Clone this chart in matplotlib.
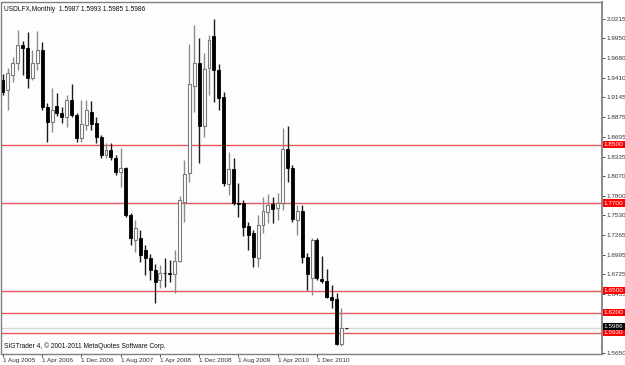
import numpy as np
import matplotlib.pyplot as plt

plt.rcParams['font.family'] = ['Liberation Sans', 'DejaVu Sans']

# Monthly candles, Aug 2005 .. Jun 2011
opens = [1.9382, 1.9245, 1.9450, 1.9614, 1.9860, 1.9819, 1.9409, 1.9614, 1.9792, 1.9013,
         1.8808, 1.9026, 1.8931, 1.8876, 1.9108, 1.8903, 1.8589, 1.8767, 1.8945, 1.8794,
         1.8603, 1.8357, 1.8425, 1.8316, 1.8125, 1.8179, 1.7537, 1.7195, 1.7222, 1.7059,
         1.6950, 1.6785, 1.6649, 1.6745, 1.6745, 1.6731, 1.6908, 1.7714, 1.8111, 1.9300,
         1.9614, 1.8753, 1.9546, 1.9983, 1.9518, 1.9149, 1.7960, 1.8165, 1.7701, 1.7701,
         1.7386, 1.7291, 1.6949, 1.7400, 1.7578, 1.7687, 1.7633, 1.7701, 1.8439, 1.8179,
         1.7469, 1.7592, 1.6963, 1.6676, 1.7195, 1.6662, 1.6635, 1.6416, 1.6389, 1.5774,
         1.5987]
highs = [1.9464, 1.9546, 1.9696, 2.0065, 1.9915, 2.0038, 1.9792, 2.0051, 1.9901, 1.9067,
         1.9272, 1.9204, 1.9013, 1.9177, 1.9327, 1.8931, 1.9108, 1.9108, 1.9095, 1.8876,
         1.8630, 1.8521, 1.8521, 1.8357, 1.8452, 1.8193, 1.7565, 1.7469, 1.7332, 1.7127,
         1.7000, 1.6867, 1.6854, 1.6949, 1.6922, 1.7059, 1.7796, 1.8288, 1.9874, 2.0133,
         1.9956, 1.9751, 1.9997, 2.0215, 1.9600, 1.9218, 1.8398, 1.8316, 1.7974, 1.7742,
         1.7441, 1.7332, 1.7537, 1.7783, 1.7824, 1.7783, 1.7838, 1.8726, 1.8753, 1.8220,
         1.7673, 1.7673, 1.7017, 1.7222, 1.7222, 1.6977, 1.6799, 1.6580, 1.6471, 1.6266,
         1.5993]
lows = [1.9177, 1.8972, 1.9354, 1.9518, 1.9450, 1.9272, 1.9382, 1.9518, 1.8972, 1.8535,
        1.8671, 1.8890, 1.8794, 1.8740, 1.8876, 1.8535, 1.8535, 1.8698, 1.8698, 1.8521,
        1.8316, 1.8316, 1.8288, 1.8083, 1.7919, 1.7510, 1.7127, 1.7031, 1.6895, 1.6717,
        1.6650, 1.6328, 1.6539, 1.6553, 1.6621, 1.6471, 1.6895, 1.7441, 1.7988, 1.8944,
        1.8247, 1.8603, 1.9177, 1.9081, 1.8972, 1.7933, 1.7810, 1.7673, 1.7510, 1.7250,
        1.7059, 1.6826, 1.6826, 1.7291, 1.7428, 1.7428, 1.7469, 1.7605, 1.7988, 1.7441,
        1.7264, 1.6881, 1.6512, 1.6444, 1.6649, 1.6608, 1.6402, 1.6266, 1.5760, 1.5746,
        1.5985]
closes = [1.9218, 1.9477, 1.9614, 1.9860, 1.9819, 1.9409, 1.9614, 1.9792, 1.9013, 1.8808,
          1.8972, 1.8931, 1.8876, 1.9108, 1.8903, 1.8589, 1.8780, 1.8972, 1.8780, 1.8603,
          1.8357, 1.8425, 1.8329, 1.8125, 1.8179, 1.7537, 1.7222, 1.7359, 1.6990, 1.6950,
          1.6785, 1.6621, 1.6745, 1.6740, 1.6735, 1.6908, 1.7742, 1.8097, 1.9327, 1.9614,
          1.8753, 1.9532, 1.9928, 1.9518, 1.9136, 1.7974, 1.8165, 1.7701, 1.7687, 1.7373,
          1.7264, 1.6963, 1.7400, 1.7592, 1.7673, 1.7619, 1.7701, 1.8439, 1.8179, 1.7482,
          1.7592, 1.6963, 1.6731, 1.7195, 1.6676, 1.6635, 1.6416, 1.6375, 1.5774, 1.5987,
          1.5986]

date_labels = ["1 Aug 2005", "1 Apr 2006", "1 Dec 2006", "1 Aug 2007", "1 Apr 2008",
               "1 Dec 2008", "1 Aug 2009", "1 Apr 2010", "1 Dec 2010"]
price_ticks = [2.0215, 1.9950, 1.9680, 1.9410, 1.9145, 1.8875, 1.8605, 1.8335, 1.8070,
               1.7800, 1.7530, 1.7265, 1.6995, 1.6725, 1.6455, 1.6185, 1.5920, 1.5650]
levels = [1.8500, 1.7700, 1.6500, 1.6200, 1.5930]
level_labels = ["1.8500", "1.7700", "1.6500", "1.6200", "1.5930"]
bid = 1.5986

fig = plt.figure(figsize=(6.25, 3.65), dpi=100, facecolor="white")
ax = fig.add_axes([1.5 / 625, 1 - 354 / 365, 600.5 / 625, 352 / 365])
ax.set_facecolor("#FDFDFD")

o = np.array(opens); h = np.array(highs); l = np.array(lows); c = np.array(closes)
x = np.arange(len(o))
up = c >= o
dn = ~up

# wicks
ax.vlines(x[up], l[up], h[up], color="#8C8C8C", linewidth=1, zorder=2)
ax.vlines(x[dn], l[dn], h[dn], color="#1A1A1A", linewidth=1, zorder=2)
# bodies
ax.bar(x[up], c[up] - o[up], bottom=o[up], width=0.6, color="white",
       edgecolor="#7A7A7A", linewidth=0.8, zorder=3)
ax.bar(x[dn], o[dn] - c[dn], bottom=c[dn], width=0.6, color="black",
       edgecolor="black", linewidth=0.6, zorder=3)

# horizontal levels
for lv in levels:
    ax.axhline(lv, color="#E8585A", linewidth=1, zorder=1)
ax.axhline(bid, color="#D8D8D8", linewidth=1, zorder=0)

ax.set_xlim(-0.3, 122.1)
ax.set_ylim(1.5637, 2.0448)

ax.yaxis.tick_right()
ax.set_yticks(price_ticks)
ax.set_yticklabels(["%.4f" % v for v in price_ticks])
ax.set_xticks(range(0, 65, 8))
ax.set_xticklabels(date_labels, ha="left")
ax.tick_params(axis="both", labelsize=4.6, colors="#333333", length=2, width=0.6, pad=1.2)

for s in ax.spines.values():
    s.set_color("#808080")
    s.set_linewidth(1)
ax.spines["right"].set_linewidth(1.3)

# right side price labels
for lv, txt in zip(levels, level_labels):
    ax.text(1.003, lv, txt, transform=ax.get_yaxis_transform(), ha="left", va="center",
            fontsize=4.6, color="white", zorder=10, clip_on=False,
            bbox=dict(facecolor="#FF0000", edgecolor="none", pad=0.8))
ax.text(1.003, bid + 0.0026, "%.4f" % bid, transform=ax.get_yaxis_transform(), ha="left",
        va="center", fontsize=4.6, color="white", zorder=10, clip_on=False,
        bbox=dict(facecolor="black", edgecolor="none", pad=0.8))

ax.text(0.004, 0.988, "USDLFX,Monthly  1.5987 1.5993 1.5985 1.5986", transform=ax.transAxes,
        ha="left", va="top", fontsize=4.8, color="#111111")
ax.text(0.004, 0.012, "SIGTrader 4, \u00a9 2001-2011 MetaQuotes Software Corp.",
        transform=ax.transAxes, ha="left", va="bottom", fontsize=4.8, color="#111111")

fig.savefig("out.png", dpi=100, facecolor="white")
